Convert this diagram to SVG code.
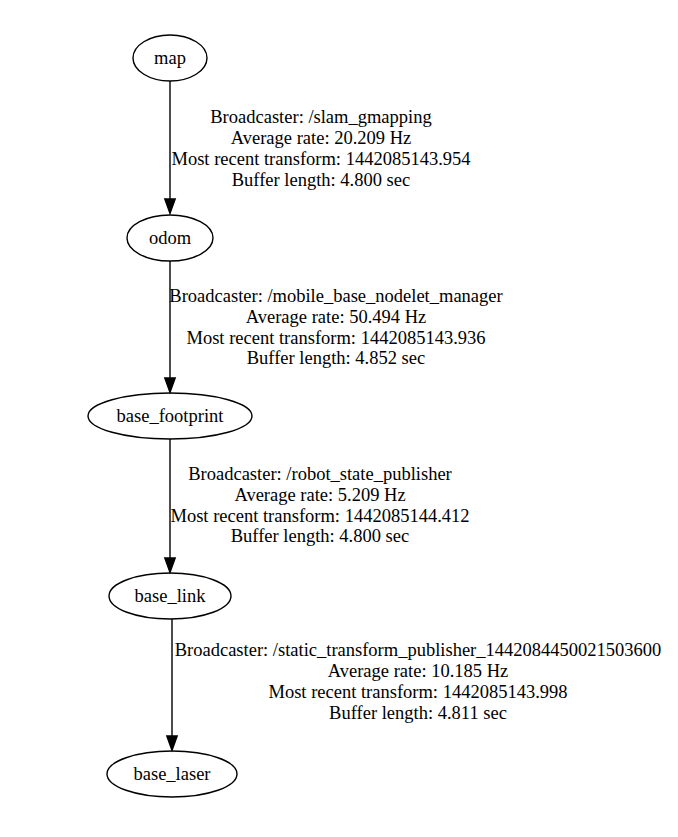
<svg xmlns="http://www.w3.org/2000/svg" width="678" height="837" viewBox="0 0 678 837">
<style>
text{font-family:"Liberation Serif","Times New Roman",serif;font-size:18.5px;fill:#000}
.n ellipse{fill:none;stroke:#000;stroke-width:1.4}
.e line{stroke:#000;stroke-width:1.4}
.e polygon{fill:#000;stroke:#000;stroke-width:1.4}
.c{text-anchor:middle}
</style>
<rect width="678" height="837" fill="#fff"/>
<g id="connectors" class="e">
<g id="e1"><line x1="170" y1="81" x2="170" y2="199"/><polygon points="164.8,199 175.2,199 170,213.5"/></g>
<g id="e2"><line x1="170" y1="261" x2="170" y2="378"/><polygon points="164.8,378 175.2,378 170,392.5"/></g>
<g id="e3"><line x1="170" y1="439" x2="170" y2="558"/><polygon points="164.8,558 175.2,558 170,572.5"/></g>
<g id="e4"><line x1="172" y1="619" x2="172" y2="736"/><polygon points="166.8,736 177.2,736 172,750.5"/></g>
</g>
<g id="labels">
<g id="l1" class="c">
<text x="321" y="123">Broadcaster: /slam_gmapping</text>
<text x="321" y="144">Average rate: 20.209 Hz</text>
<text x="321" y="165">Most recent transform: 1442085143.954</text>
<text x="321" y="186">Buffer length: 4.800 sec</text>
</g>
<g id="l2" class="c">
<text x="336" y="302">Broadcaster: /mobile_base_nodelet_manager</text>
<text x="336" y="323">Average rate: 50.494 Hz</text>
<text x="336" y="344">Most recent transform: 1442085143.936</text>
<text x="336" y="364">Buffer length: 4.852 sec</text>
</g>
<g id="l3" class="c">
<text x="320" y="480">Broadcaster: /robot_state_publisher</text>
<text x="320" y="501">Average rate: 5.209 Hz</text>
<text x="320" y="522">Most recent transform: 1442085144.412</text>
<text x="320" y="542">Buffer length: 4.800 sec</text>
</g>
<g id="l4" class="c">
<text x="418" y="656">Broadcaster: /static_transform_publisher_1442084450021503600</text>
<text x="418" y="677">Average rate: 10.185 Hz</text>
<text x="418" y="698">Most recent transform: 1442085143.998</text>
<text x="418" y="719">Buffer length: 4.811 sec</text>
</g>
</g>
<g id="map" class="n"><ellipse cx="170" cy="58" rx="37" ry="23"/><text class="c" x="170" y="64">map</text></g>
<g id="odom" class="n"><ellipse cx="170" cy="238" rx="43" ry="23"/><text class="c" x="170" y="244">odom</text></g>
<g id="base_footprint" class="n"><ellipse cx="170" cy="416" rx="82" ry="23"/><text class="c" x="170" y="422">base_footprint</text></g>
<g id="base_link" class="n"><ellipse cx="170" cy="596" rx="61" ry="23"/><text class="c" x="170" y="602">base_link</text></g>
<g id="base_laser" class="n"><ellipse cx="172" cy="774" rx="65" ry="23"/><text class="c" x="172" y="780">base_laser</text></g>
</svg>
